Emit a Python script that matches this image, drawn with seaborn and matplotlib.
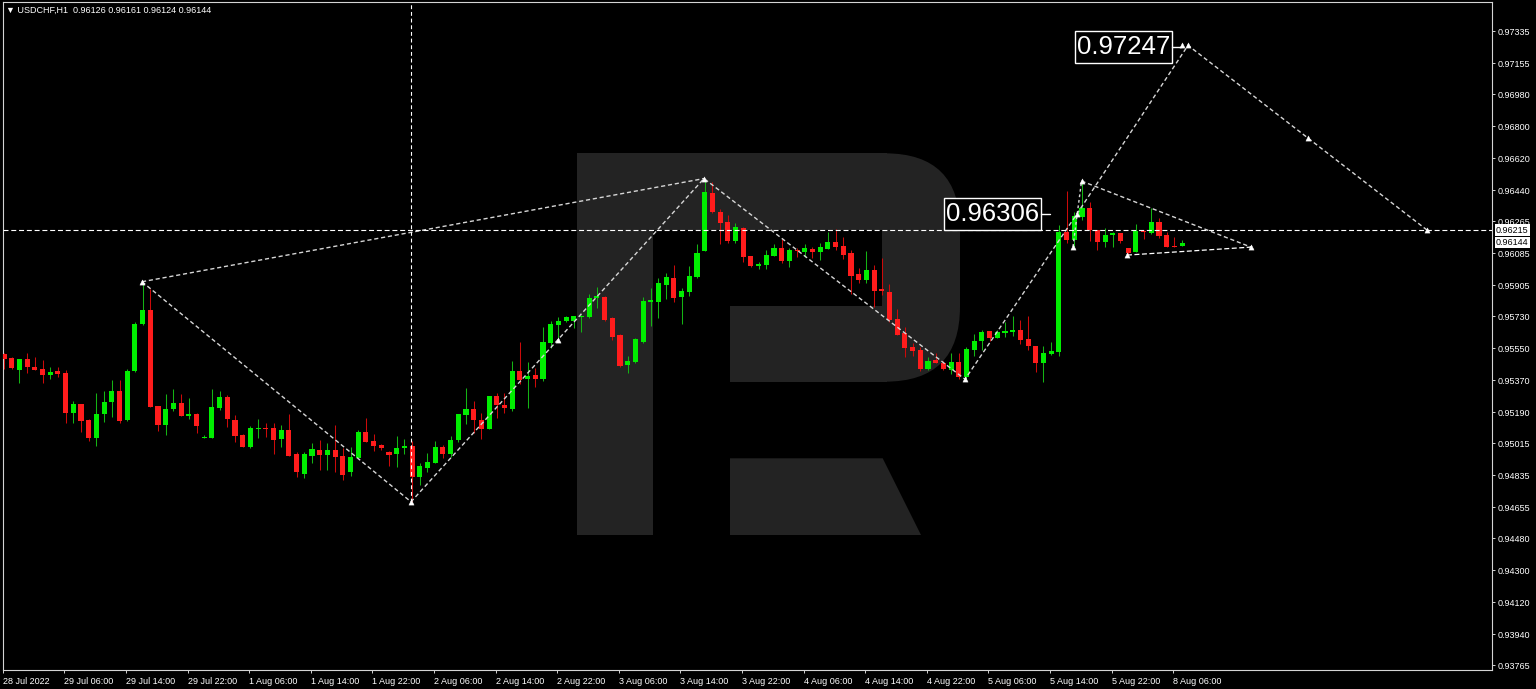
import numpy as np
import pandas as pd
import matplotlib
matplotlib.use("Agg")
from matplotlib import pyplot as plt
from matplotlib import transforms
from matplotlib.patches import Rectangle, FancyBboxPatch, Polygon
import seaborn as sns

# ---------------------------------------------------------------- data
symbol = "USDCHF,H1"
last_quote = [0.96126, 0.96161, 0.96124, 0.96144]

opens = [0.95517, 0.95496, 0.95427, 0.95487, 0.95446, 0.95431, 0.95400, 0.95421, 0.95408, 0.95186,
         0.95234, 0.95144, 0.95046, 0.95177, 0.95245, 0.95309, 0.95144, 0.95420, 0.95686, 0.95765,
         0.95224, 0.95117, 0.95207, 0.95239, 0.95170, 0.95179, 0.95046, 0.95046, 0.95215, 0.95277,
         0.95145, 0.95061, 0.94992, 0.95095, 0.95100, 0.95099, 0.95037, 0.95089, 0.94956, 0.94841,
         0.94944, 0.94975, 0.94948, 0.94975, 0.94944, 0.94853, 0.94933, 0.95078, 0.95027, 0.95003,
         0.94965, 0.94952, 0.94990, 0.94999, 0.94826, 0.94877, 0.94905, 0.94992, 0.94956, 0.95033,
         0.95174, 0.95207, 0.95145, 0.95096, 0.95279, 0.95230, 0.95209, 0.95420, 0.95375, 0.95397,
         0.95375, 0.95581, 0.95680, 0.95703, 0.95703, 0.95727, 0.95727, 0.95831, 0.95840, 0.95718,
         0.95622, 0.95453, 0.95472, 0.95586, 0.95811, 0.95811, 0.95907, 0.95943, 0.95840, 0.95868,
         0.95951, 0.96099, 0.96422, 0.96318, 0.96260, 0.96155, 0.96225, 0.96069, 0.96014, 0.96018,
         0.96070, 0.96112, 0.96041, 0.96103, 0.96093, 0.96110, 0.96093, 0.96106, 0.96148, 0.96123,
         0.96086, 0.95969, 0.95934, 0.95990, 0.95881, 0.95868, 0.95712, 0.95634, 0.95555, 0.95540,
         0.95431, 0.95483, 0.95468, 0.95427, 0.95474, 0.95386, 0.95540, 0.95590, 0.95646, 0.95609,
         0.95637, 0.95639, 0.95652, 0.95601, 0.95562, 0.95468, 0.95517, 0.95530, 0.96206, 0.96159,
         0.96287, 0.96341, 0.96215, 0.96146, 0.96187, 0.96200, 0.96112, 0.96093, 0.96211, 0.96200,
         0.96262, 0.96187, 0.96127, 0.96126]
highs = [0.95523, 0.95502, 0.95489, 0.95521, 0.95498, 0.95483, 0.95442, 0.95442, 0.95427, 0.95252,
         0.95236, 0.95153, 0.95296, 0.95310, 0.95371, 0.95371, 0.95431, 0.95699, 0.95924, 0.95881,
         0.95226, 0.95290, 0.95322, 0.95292, 0.95268, 0.95183, 0.95061, 0.95322, 0.95310, 0.95285,
         0.95174, 0.95065, 0.95112, 0.95149, 0.95130, 0.95127, 0.95116, 0.95179, 0.94965, 0.94965,
         0.95018, 0.95033, 0.95018, 0.95116, 0.94986, 0.94992, 0.95089, 0.95155, 0.95067, 0.95010,
         0.94971, 0.95055, 0.95037, 0.95027, 0.94905, 0.94961, 0.95029, 0.95003, 0.95057, 0.95181,
         0.95324, 0.95252, 0.95186, 0.95282, 0.95296, 0.95296, 0.95478, 0.95586, 0.95470, 0.95436,
         0.95667, 0.95704, 0.95727, 0.95733, 0.95733, 0.95737, 0.95853, 0.95896, 0.95844, 0.95727,
         0.95630, 0.95506, 0.95609, 0.95840, 0.95887, 0.95947, 0.95971, 0.96018, 0.95887, 0.96014,
         0.96136, 0.96505, 0.96484, 0.96333, 0.96300, 0.96253, 0.96230, 0.96070, 0.96035, 0.96103,
         0.96136, 0.96163, 0.96112, 0.96115, 0.96135, 0.96121, 0.96144, 0.96204, 0.96219, 0.96177,
         0.96103, 0.95999, 0.96099, 0.96018, 0.96059, 0.95911, 0.95769, 0.95667, 0.95581, 0.95558,
         0.95502, 0.95521, 0.95479, 0.95521, 0.95524, 0.95558, 0.95628, 0.95652, 0.95648, 0.95652,
         0.95699, 0.95733, 0.95708, 0.95731, 0.95562, 0.95562, 0.95586, 0.96243, 0.96435, 0.96318,
         0.96491, 0.96374, 0.96216, 0.96225, 0.96206, 0.96201, 0.96113, 0.96249, 0.96215, 0.96341,
         0.96281, 0.96206, 0.96177, 0.96161]
lows = [0.95433, 0.95431, 0.95355, 0.95408, 0.95425, 0.95352, 0.95378, 0.95389, 0.95127, 0.95127,
        0.95080, 0.95029, 0.95001, 0.95132, 0.95164, 0.95127, 0.95142, 0.95416, 0.95680, 0.95218,
        0.95085, 0.95061, 0.95198, 0.95168, 0.95151, 0.95074, 0.95044, 0.95044, 0.95202, 0.95108,
        0.95023, 0.94992, 0.94990, 0.95046, 0.95051, 0.94954, 0.94992, 0.94942, 0.94825, 0.94819,
        0.94905, 0.94864, 0.94864, 0.94853, 0.94808, 0.94830, 0.94933, 0.95023, 0.94971, 0.94977,
        0.94886, 0.94882, 0.94954, 0.94685, 0.94778, 0.94853, 0.94902, 0.94933, 0.94935, 0.95023,
        0.95123, 0.95071, 0.95037, 0.95093, 0.95155, 0.95183, 0.95196, 0.95346, 0.95215, 0.95333,
        0.95367, 0.95549, 0.95605, 0.95697, 0.95662, 0.95643, 0.95721, 0.95774, 0.95703, 0.95596,
        0.95442, 0.95408, 0.95468, 0.95581, 0.95675, 0.95718, 0.95827, 0.95811, 0.95686, 0.95844,
        0.95947, 0.96095, 0.96309, 0.96136, 0.96144, 0.96140, 0.96037, 0.96005, 0.95996, 0.95996,
        0.96069, 0.96028, 0.96005, 0.96065, 0.96061, 0.96056, 0.96046, 0.96106, 0.96103, 0.96050,
        0.95855, 0.95915, 0.95915, 0.95783, 0.95849, 0.95699, 0.95622, 0.95498, 0.95507, 0.95421,
        0.95427, 0.95465, 0.95427, 0.95404, 0.95375, 0.95371, 0.95506, 0.95540, 0.95590, 0.95607,
        0.95614, 0.95620, 0.95573, 0.95540, 0.95417, 0.95361, 0.95511, 0.95507, 0.96144, 0.96121,
        0.96271, 0.96155, 0.96103, 0.96118, 0.96118, 0.96144, 0.96069, 0.96092, 0.96164, 0.96193,
        0.96168, 0.96118, 0.96121, 0.96124]
closes = [0.95487, 0.95440, 0.95487, 0.95442, 0.95427, 0.95400, 0.95417, 0.95404, 0.95183, 0.95234,
          0.95140, 0.95046, 0.95179, 0.95245, 0.95310, 0.95141, 0.95420, 0.95686, 0.95765, 0.95220,
          0.95117, 0.95207, 0.95239, 0.95170, 0.95179, 0.95113, 0.95051, 0.95217, 0.95277, 0.95151,
          0.95057, 0.94995, 0.95099, 0.95100, 0.95095, 0.95033, 0.95089, 0.94944, 0.94853, 0.94954,
          0.94982, 0.94948, 0.94975, 0.94939, 0.94836, 0.94935, 0.95078, 0.95023, 0.94999, 0.94988,
          0.94948, 0.94986, 0.95001, 0.94826, 0.94886, 0.94909, 0.94992, 0.94956, 0.95033, 0.95179,
          0.95207, 0.95145, 0.95096, 0.95279, 0.95230, 0.95215, 0.95420, 0.95371, 0.95395, 0.95376,
          0.95586, 0.95684, 0.95704, 0.95724, 0.95733, 0.95733, 0.95831, 0.95844, 0.95708, 0.95614,
          0.95449, 0.95478, 0.95600, 0.95815, 0.95821, 0.95915, 0.95951, 0.95834, 0.95873, 0.95956,
          0.96086, 0.96427, 0.96318, 0.96256, 0.96151, 0.96230, 0.96061, 0.96014, 0.96022, 0.96073,
          0.96112, 0.96041, 0.96103, 0.96095, 0.96114, 0.96093, 0.96118, 0.96146, 0.96121, 0.96074,
          0.95958, 0.95934, 0.95990, 0.95873, 0.95873, 0.95708, 0.95622, 0.95549, 0.95534, 0.95431,
          0.95479, 0.95468, 0.95431, 0.95470, 0.95386, 0.95543, 0.95590, 0.95643, 0.95609, 0.95639,
          0.95645, 0.95652, 0.95596, 0.95562, 0.95465, 0.95524, 0.95534, 0.96206, 0.96159, 0.96296,
          0.96341, 0.96215, 0.96148, 0.96187, 0.96200, 0.96155, 0.96087, 0.96211, 0.96202, 0.96258,
          0.96181, 0.96121, 0.96121, 0.96144]

time_labels = ["28 Jul 2022", "29 Jul 06:00", "29 Jul 14:00", "29 Jul 22:00", "1 Aug 06:00",
               "1 Aug 14:00", "1 Aug 22:00", "2 Aug 06:00", "2 Aug 14:00", "2 Aug 22:00",
               "3 Aug 06:00", "3 Aug 14:00", "3 Aug 22:00", "4 Aug 06:00", "4 Aug 14:00",
               "4 Aug 22:00", "5 Aug 06:00", "5 Aug 14:00", "5 Aug 22:00", "8 Aug 06:00"]
bars_per_label = 8

price_ticks = [0.97335, 0.97155, 0.96980, 0.96800, 0.96620, 0.96440, 0.96265, 0.96085, 0.95905,
               0.95730, 0.95550, 0.95370, 0.95190, 0.95015, 0.94835, 0.94655, 0.94480, 0.94300,
               0.94120, 0.93940, 0.93765]

# analyst's drawing (bar index, price)
wave_bars = [17.92, 52.86, 90.91, 124.81, 139.35, 153.77, 184.81]
wave_prices = [0.95924, 0.94685, 0.96505, 0.95375, 0.96306, 0.97255, 0.96215]
upper_bars = [17.92, 90.91]
upper_prices = [0.95924, 0.96505]
spike_bars = [138.83, 139.94]
spike_prices = [0.96121, 0.96491]
tri_top_bars = [139.94, 161.95]
tri_top_prices = [0.96491, 0.96119]
tri_low_bars = [145.84, 161.95]
tri_low_prices = [0.96074, 0.96119]
level_price = 0.96215
target_labels = [0.96306, 0.97247]
label_right_bars = [134.68, 151.65]
label_tip_bars = [135.84, 152.86]

# ---------------------------------------------------------------- style
BG = "black"
FRAME = "#d4d4d4"
BULL, BULL_WICK = "#00ee00", "#14b414"
BEAR, BEAR_WICK = "#ff1c1c", "#cc0a0a"
DRAW = "#d6d6d6"
LOGO = "#232323"

sns.set_theme(style="dark", rc={"axes.facecolor": BG, "figure.facecolor": BG,
                                "savefig.facecolor": BG, "text.color": "white",
                                "xtick.color": "white", "ytick.color": "white"})
plt.rcParams["font.family"] = ["Liberation Sans", "DejaVu Sans"]

W, H = 1536, 689
fig = plt.figure(figsize=(W / 100, H / 100), dpi=100)

# background layer in pixels, holds the watermark
bg = fig.add_axes([0, 0, 1, 1], zorder=0)
bg.set_xlim(0, W)
bg.set_ylim(H, 0)
bg.set_axis_off()


def draw_logo(bg):
    """
    Draws the big grey R watermark behind the chart.
    """
    bg.add_patch(Rectangle((576.7, 153.3), 76.6, 381.7, color=LOGO, lw=0))
    bg.add_patch(Rectangle((576.7, 153.3), 310, 228.4, color=LOGO, lw=0))
    bg.add_patch(FancyBboxPatch((810, 153.3), 150, 228.4,
                                boxstyle="round,pad=0,rounding_size=75", color=LOGO, lw=0))
    # cut-outs of the bowl
    bg.add_patch(Rectangle((653.3, 230), 228.4, 75.7, color=BG, lw=0))
    bg.add_patch(Rectangle((653.3, 305.7), 76.7, 76.5, color=BG, lw=0))
    bg.add_patch(Polygon([(730, 458.3), (882.7, 458.3), (921, 535), (730, 535)],
                         closed=True, color=LOGO, lw=0))


draw_logo(bg)

# main chart area
left_px, right_px, top_px, bottom_px = 2.7, 1492, 2, 670
ax = fig.add_axes([left_px / W, (H - bottom_px) / H,
                   (right_px - left_px) / W, (bottom_px - top_px) / H], zorder=1)
ax.set_facecolor("none")

x_lim = (-0.17, 193.25)
y_lim = (0.93738, 0.97499)
bar_px = (right_px - left_px) / (x_lim[1] - x_lim[0])
price_px = (bottom_px - top_px) / (y_lim[1] - y_lim[0])

df = pd.DataFrame({"open": opens, "high": highs, "low": lows, "close": closes})
df["bar"] = np.arange(len(df))
df["up"] = df["close"] >= df["open"]


def draw_candles(ax, df):
    """
    Draws wicks and bodies of the hourly candles.
    """
    wick_colors = np.where(df["up"], BULL_WICK, BEAR_WICK)
    ax.vlines(df["bar"], df["low"], df["high"], colors=wick_colors, lw=0.75, zorder=2)
    body_low = df[["open", "close"]].min(axis=1)
    body_h = np.maximum((df["close"] - df["open"]).abs(), 1.0 / price_px)
    body_colors = np.where(df["up"], BULL, BEAR)
    ax.bar(df["bar"], body_h, bottom=body_low, width=0.66, color=body_colors,
           linewidth=0, zorder=3)


def dashed(ax, xs, ys, color=DRAW, lw=1.0, dash=(3, 2)):
    sns.lineplot(x=xs, y=ys, ax=ax, sort=False, estimator=None, color=color,
                 lw=lw, linestyle=(0, dash), zorder=4)


def draw_analysis(ax):
    """
    Draws the wave lines, triangle, levels and the target labels.
    """
    dashed(ax, wave_bars, wave_prices)
    dashed(ax, upper_bars, upper_prices)
    dashed(ax, spike_bars, spike_prices, dash=(2, 2))
    dashed(ax, tri_top_bars, tri_top_prices)
    dashed(ax, tri_low_bars, tri_low_prices, color="white", lw=0.9, dash=(4, 2))
    # vertical line from the low up to the top
    dashed(ax, [wave_bars[1], wave_bars[1]], [wave_prices[1], y_lim[1]],
           color="white", lw=0.8, dash=(3.5, 2.5))
    ax.axhline(level_price, color="white", lw=0.8, linestyle=(0, (4.5, 2.5)), zorder=4)

    # small arrows on the vertices and in the middle of two legs
    mx = wave_bars + spike_bars + [tri_top_bars[1], tri_low_bars[0], label_tip_bars[1] + 0.1,
                                   (wave_bars[1] + wave_bars[2]) / 2,
                                   (wave_bars[5] + wave_bars[6]) / 2]
    my = wave_prices + spike_prices + [tri_top_prices[1], tri_low_prices[0], target_labels[1] + 0.0001,
                                       (wave_prices[1] + wave_prices[2]) / 2,
                                       (wave_prices[5] + wave_prices[6]) / 2]
    sns.scatterplot(x=mx, y=my, ax=ax, marker="^", s=14, color="white",
                    edgecolor="white", linewidth=0.3, zorder=5)

    # boxed price labels
    box_w, box_h = 97 / bar_px, 32 / price_px
    for value, right, tip in zip(target_labels, label_right_bars, label_tip_bars):
        ax.add_patch(Rectangle((right - box_w, value - box_h / 2), box_w, box_h,
                               facecolor=BG, edgecolor="white", lw=1.0, zorder=6))
        ax.text(right - box_w / 2, value, f"{value:.5f}", ha="center", va="center",
                fontsize=18.5, color="white", zorder=7)
        ax.plot([right, tip], [value, value], color="white", lw=1.0, zorder=6)

    # current price / level tags on the price scale
    tag = transforms.offset_copy(ax.get_yaxis_transform(), fig=fig, x=4, y=0, units="dots")
    for value in [level_price, last_quote[3]]:
        ax.text(1.0, value, f"{value:.5f}", transform=tag, ha="left", va="center",
                fontsize=6.5, color="black", clip_on=False, zorder=8,
                bbox=dict(boxstyle="square,pad=0.12", fc="white", ec="none"))


draw_candles(ax, df)
draw_analysis(ax)

# axes
ax.set_xlim(*x_lim)
ax.set_ylim(*y_lim)
ax.set_xlabel("")
ax.set_ylabel("")
ax.grid(False)
ax.yaxis.tick_right()
ax.set_yticks(price_ticks)
ax.set_yticklabels([f"{p:.5f}" for p in price_ticks])
ax.set_xticks(np.arange(len(time_labels)) * bars_per_label - 0.15)
ax.set_xticklabels(time_labels, ha="left")
ax.tick_params(axis="both", which="both", direction="out", length=2.2, width=0.7,
               color=FRAME, labelcolor="white", labelsize=6.5)
ax.tick_params(axis="x", pad=2.5, bottom=True)
ax.tick_params(axis="y", pad=1.5, right=True, left=False)
for s in ax.spines.values():
    s.set_visible(True)
    s.set_color(FRAME)
    s.set_linewidth(0.8)

# header line
ax.text(0.002, 0.988, "\u25bc " + symbol + "  " + " ".join(f"{v:.5f}" for v in last_quote),
        transform=ax.transAxes, ha="left", va="center", fontsize=6.5, color="white", zorder=8)

fig.savefig("out.png", dpi=100, facecolor=BG)
